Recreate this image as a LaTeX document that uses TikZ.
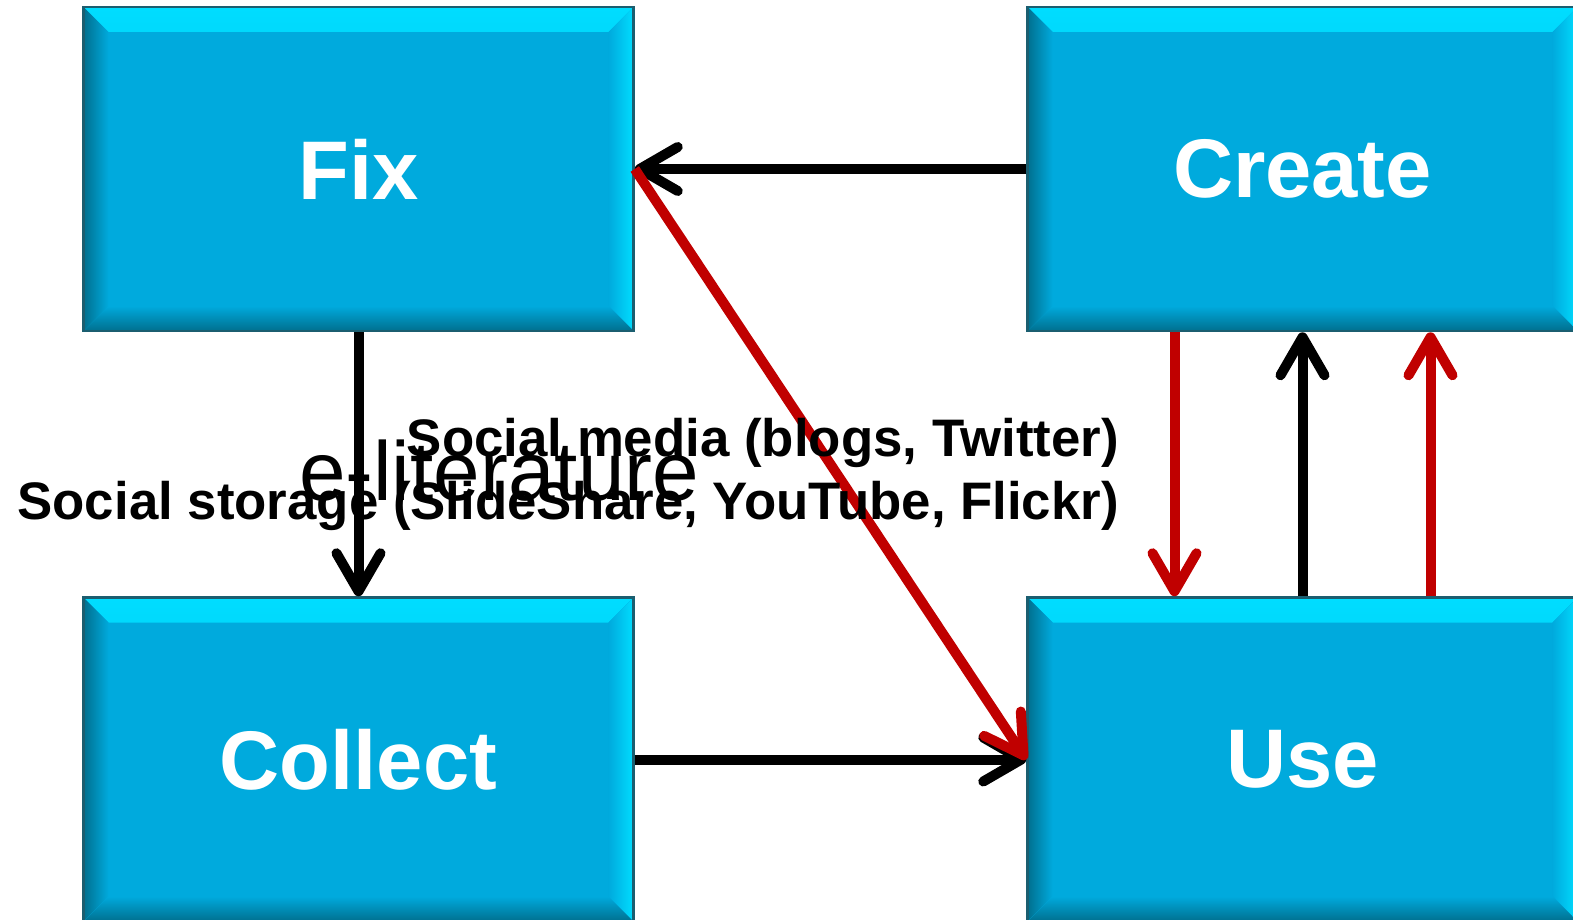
\documentclass[tikz,border=0pt]{standalone}
\usepackage{fontspec}
\setmainfont{Liberation Sans}
\usetikzlibrary{arrows.meta,calc}
\definecolor{boxfill}{HTML}{00AADD}
\definecolor{boxtop}{HTML}{00DDFF}
\definecolor{boxdark}{HTML}{006F8E}
\definecolor{boxedge}{HTML}{1B5E70}
\definecolor{arrred}{HTML}{C00000}
\tikzset{
  box/.style={rectangle, minimum width=549bp, minimum height=323bp, inner sep=0pt,
    fill=boxfill, draw=boxedge, line width=2.5bp, text=white,
    font=\fontsize{83.5}{90}\selectfont\bfseries,
    path picture={
      \fill[top color=boxtop, bottom color=boxfill]
        (path picture bounding box.north west) -- (path picture bounding box.north east)
        -- ([shift={(-25bp,-25bp)}]path picture bounding box.north east)
        -- ([shift={(25bp,-25bp)}]path picture bounding box.north west) -- cycle;
      \fill[left color=boxdark, right color=boxfill]
        (path picture bounding box.north west)
        -- ([shift={(25bp,-25bp)}]path picture bounding box.north west)
        -- ([shift={(25bp,25bp)}]path picture bounding box.south west)
        -- (path picture bounding box.south west) -- cycle;
      \fill[left color=boxfill, right color=boxtop]
        (path picture bounding box.north east)
        -- ([shift={(-25bp,-25bp)}]path picture bounding box.north east)
        -- ([shift={(-25bp,25bp)}]path picture bounding box.south east)
        -- (path picture bounding box.south east) -- cycle;
      \fill[top color=boxfill, bottom color=boxdark]
        (path picture bounding box.south west)
        -- ([shift={(25bp,25bp)}]path picture bounding box.south west)
        -- ([shift={(-25bp,25bp)}]path picture bounding box.south east)
        -- (path picture bounding box.south east) -- cycle;
    }},
  arr/.style={line width=10bp, -{Straight Barb[length=38bp, width=44bp, line cap=round, line join=round]}},
  redarr/.style={arr, draw=arrred},
  lbl/.style={inner sep=0pt, font=\bfseries\fontsize{53}{60}\selectfont, anchor=base east}
}
\begin{document}
\begin{tikzpicture}[x=1bp,y=-1bp]
\useasboundingbox (0,0) rectangle (1573,919);
\clip (0,0) rectangle (1573,919);
\node[box, minimum width=550bp, minimum height=324bp] (fix) at (358.5,169) {Fix};
\node[box, minimum width=550bp, minimum height=324bp] (create) at (1302.5,169) {Create};
\node[box, minimum width=550bp, minimum height=324bp] (collect) at (358.5,759.5) {Collect};
\node[box, minimum width=550bp, minimum height=324bp] (use) at (1302.5,759.5) {Use};

\draw[arr] (create.west) -- (fix.east);
\draw[arr] (fix.south) -- (collect.north);
\draw[arr] (collect.east) -- (use.west);
\draw[redarr] (fix.east) -- (use.west);
\draw[redarr] ([xshift=-128bp]create.south) -- ([xshift=-128bp]use.north);
\draw[arr] (use.north) -- (create.south);
\draw[redarr] ([xshift=128bp]use.north) -- ([xshift=128bp]create.south);

\node[inner sep=0pt, anchor=base, font=\fontsize{84}{90}\selectfont] (elit) at (499,500) {e-literature};
\node[lbl] (sm) at (1119,456) {Social media (blogs, Twitter)};
\node[lbl] (ss) at (1119,519) {Social storage (SlideShare, YouTube, Flickr)};
\end{tikzpicture}
\end{document}
